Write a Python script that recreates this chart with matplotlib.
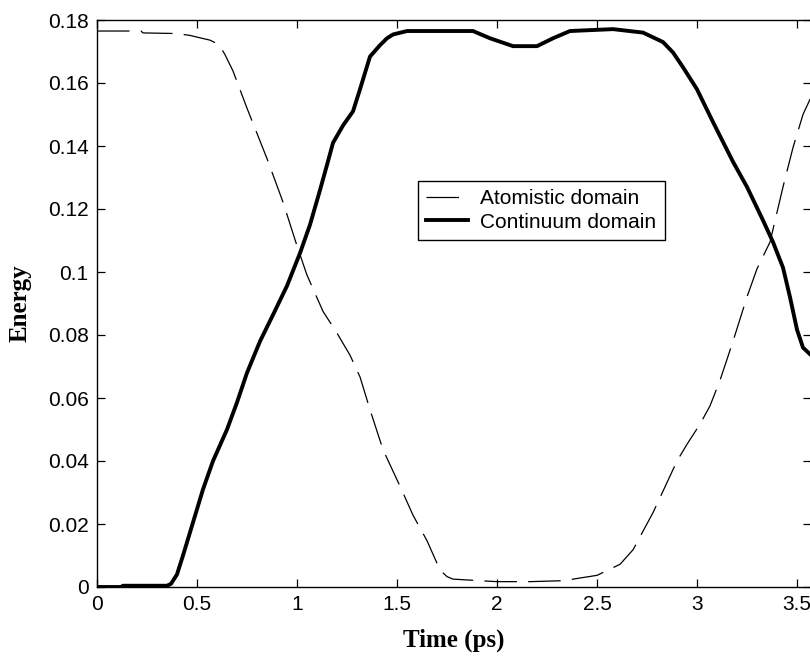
import matplotlib
matplotlib.use("Agg")
import matplotlib.pyplot as plt

# Energy of the two domains vs time
t_atom = [0, 0.22, 0.23, 0.40, 0.465, 0.565, 0.61, 0.64, 0.68, 0.75, 0.85, 0.93,
          1.0, 1.05, 1.13, 1.2, 1.265, 1.315, 1.365, 1.43, 1.515, 1.58, 1.65,
          1.715, 1.75, 1.78, 1.915, 2.0, 2.165, 2.33, 2.5, 2.615, 2.68, 2.78, 2.9,
          2.95, 3.015, 3.065, 3.115, 3.18, 3.25, 3.3, 3.365, 3.43, 3.48, 3.53, 3.57]
e_atom = [0.1765, 0.1765, 0.1759, 0.1757, 0.1751, 0.1736, 0.1722, 0.169, 0.1638,
          0.152, 0.136, 0.1222, 0.1083, 0.099, 0.0875, 0.0806, 0.0736, 0.0667,
          0.0563, 0.0436, 0.032, 0.0228, 0.0147, 0.0054, 0.0033, 0.0025, 0.002,
          0.0017, 0.0017, 0.002, 0.0037, 0.0072, 0.0118, 0.0236, 0.040, 0.0453,
          0.0517, 0.0575, 0.0656, 0.078, 0.0921, 0.101, 0.1095, 0.127, 0.1395,
          0.15, 0.1555]

t_cont = [0, 0.12, 0.13, 0.35, 0.37, 0.40, 0.43, 0.48, 0.53, 0.58, 0.65, 0.70,
          0.75, 0.815, 0.88, 0.95, 1.015, 1.065, 1.115, 1.15, 1.18, 1.23, 1.28,
          1.315, 1.365, 1.415, 1.45, 1.48, 1.55, 1.88, 1.965, 2.08, 2.2, 2.28,
          2.365, 2.58, 2.73, 2.83, 2.88, 2.93, 3.0, 3.08, 3.18, 3.25, 3.33, 3.38,
          3.43, 3.465, 3.5, 3.53, 3.57]
e_cont = [0, 0, 0.0004, 0.0004, 0.001, 0.004, 0.01, 0.0205, 0.031, 0.040, 0.050,
          0.0586, 0.068, 0.078, 0.0864, 0.0956, 0.106, 0.115, 0.126, 0.134, 0.141,
          0.1465, 0.151, 0.158, 0.1684, 0.172, 0.1742, 0.1754, 0.1765, 0.1765,
          0.1742, 0.1717, 0.1717, 0.1742, 0.1765, 0.1771, 0.176, 0.173, 0.1697,
          0.165, 0.158, 0.1476, 0.135, 0.127, 0.1164, 0.1095, 0.1014, 0.092,
          0.0817, 0.076, 0.0736]

x_ticks = [0, 0.5, 1, 1.5, 2, 2.5, 3, 3.5]
x_labels = ['0', '0.5', '1', '1.5', '2', '2.5', '3', '3.5']
y_ticks = [0, 0.02, 0.04, 0.06, 0.08, 0.1, 0.12, 0.14, 0.16, 0.18]
y_labels = ['0', '0.02', '0.04', '0.06', '0.08', '0.1', '0.12', '0.14', '0.16', '0.18']

W, H = 810, 658
fig = plt.figure(figsize=(W / 100, H / 100), dpi=100)
# axes box in pixels: left 97, right ~811 (just off the image), top 20, bottom 587
ax = fig.add_axes([97 / W, (H - 587) / H, (811 - 97) / W, (587 - 20) / H])

ax.plot(t_atom, e_atom, color='black', lw=0.9, dashes=(26, 9),
        label='Atomistic domain')
ax.plot(t_cont, e_cont, color='black', lw=2.8, label='Continuum domain',
        solid_joinstyle='round')

ax.set_xlim(0, 3.57)
ax.set_ylim(0, 0.18)
ax.set_xticks(x_ticks)
ax.set_xticklabels(x_labels)
ax.set_yticks(y_ticks)
ax.set_yticklabels(y_labels)

for lab in ax.get_xticklabels() + ax.get_yticklabels():
    lab.set_fontfamily('Liberation Sans')
    lab.set_fontsize(15)

ax.tick_params(direction='in', top=True, right=True, length=6, width=0.9, pad=6)
for sp in ax.spines.values():
    sp.set_linewidth(1.0)

ax.set_xlabel('Time (ps)', family='Liberation Serif', weight='bold', fontsize=18,
              labelpad=10)
ax.set_ylabel('Energy', family='Liberation Serif', weight='bold', fontsize=18,
              labelpad=12)

leg = ax.legend(loc='upper left', bbox_to_anchor=(418 / W, 1 - 181 / H),
                bbox_transform=fig.transFigure, borderaxespad=0,
                prop={'family': 'Liberation Sans', 'size': 15},
                handlelength=2.0, handletextpad=0.6, borderpad=0.4,
                labelspacing=0.2, fancybox=False, framealpha=1)
leg.get_frame().set_edgecolor('black')
leg.get_frame().set_linewidth(1.0)

fig.savefig('out.png', dpi=100)
